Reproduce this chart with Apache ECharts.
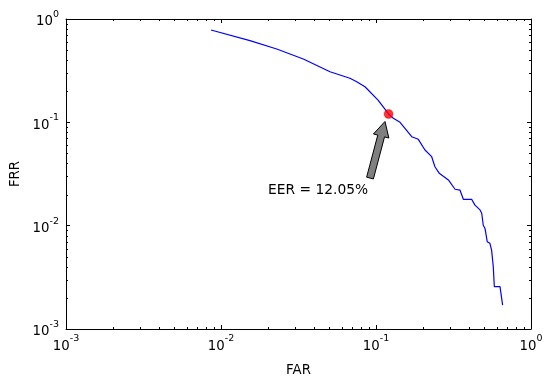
<!DOCTYPE html>
<html>
<head>
<meta charset="utf-8">
<script src="https://cdn.jsdelivr.net/npm/echarts@6/dist/echarts.min.js"></script>
<style>html,body{margin:0;padding:0;background:#fff;}#chart{width:553px;height:385px;}</style>
</head>
<body>
<div id="chart"></div>
<script>
// ---- data ----
const farValues = [0.00862, 0.01538, 0.02288, 0.03396, 0.0505, 0.0679, 0.0751, 0.0849, 0.1031, 0.1205,
  0.1294, 0.1429, 0.1538, 0.170, 0.1875, 0.192, 0.207, 0.2287, 0.240, 0.256, 0.293, 0.3236, 0.348,
  0.366, 0.414, 0.435, 0.469, 0.481, 0.492, 0.505, 0.522, 0.543, 0.557, 0.571, 0.580, 0.631, 0.656];
const frrValues = [0.782, 0.617, 0.513, 0.410, 0.309, 0.267, 0.247, 0.221, 0.164, 0.1205,
  0.1094, 0.100, 0.0875, 0.0726, 0.0685, 0.0675, 0.054, 0.0465, 0.0372, 0.0321, 0.0277, 0.0225, 0.0221,
  0.018, 0.018, 0.0158, 0.0142, 0.0132, 0.0101, 0.0094, 0.0070, 0.00675, 0.0058, 0.0040, 0.00257, 0.00257, 0.0017];
const eerPoint = [0.1205, 0.1205];
const eerText = 'EER = 12.05%';
const arrowTail = [0.0915, 0.0289];
const arrowTip = [0.1143, 0.1019];
const textPos = [0.0423, 0.0218];
const axisMin = 0.001;
const axisMax = 1;
const minorMultipliers = [2, 3, 4, 5, 6, 7, 8, 9];
const decadeExps = [-3, -2, -1];
const xName = 'FAR';
const yName = 'FRR';

const minorTicks = [];
decadeExps.forEach(e => minorMultipliers.forEach(m => minorTicks.push(m * Math.pow(10, e))));

const FONT = 'DejaVu Sans';
const labelFmt = v => '{b|10}{s|' + Math.round(Math.log10(v)) + '}';
const richLbl = {
  b: { fontSize: 13.3, fontFamily: FONT, color: '#000', verticalAlign: 'bottom', lineHeight: 19 },
  s: { fontSize: 9.5, fontFamily: FONT, color: '#000', verticalAlign: 'top', lineHeight: 10 }
};

function axisCommon(extra) {
  return Object.assign({
    type: 'log', logBase: 10, min: axisMin, max: axisMax,
    axisLine: { show: true, onZero: false, lineStyle: { color: '#000', width: 1 } },
    axisTick: { show: true, inside: true, length: 4, lineStyle: { color: '#000' } },
    splitLine: { show: false },
    minorTick: { show: false }
  }, extra);
}

const chart = echarts.init(document.getElementById('chart'), null, { renderer: 'canvas' });
chart.setOption({
  animation: false,
  backgroundColor: '#fff',
  grid: { left: 66, right: 22, top: 19, bottom: 56, containLabel: false },
  xAxis: [
    axisCommon({
      position: 'bottom',
      name: xName, nameLocation: 'middle', nameGap: 35,
      nameTextStyle: { fontSize: 13.3, fontFamily: FONT, color: '#000' },
      axisLabel: { margin: 5, formatter: labelFmt, rich: richLbl }
    }),
    axisCommon({ position: 'top', axisLabel: { show: false } })
  ],
  yAxis: [
    axisCommon({
      position: 'left',
      name: yName, nameLocation: 'middle', nameGap: 43, nameRotate: 90,
      nameTextStyle: { fontSize: 13.3, fontFamily: FONT, color: '#000' },
      axisLabel: { margin: 7, formatter: labelFmt, rich: richLbl }
    }),
    axisCommon({ position: 'right', axisLabel: { show: false } })
  ],
  series: [
    {
      type: 'custom', coordinateSystem: 'cartesian2d', silent: true, z: 1,
      data: [[axisMin, axisMin]],
      renderItem: function (params, api) {
        const children = [];
        const st = { stroke: '#000', lineWidth: 1 };
        minorTicks.forEach(v => {
          const b = api.coord([v, axisMin]);
          const t = api.coord([v, axisMax]);
          const x = Math.round(b[0]) + 0.5;
          children.push({ type: 'line', shape: { x1: x, y1: b[1], x2: x, y2: b[1] - 2 }, style: st });
          children.push({ type: 'line', shape: { x1: x, y1: t[1], x2: x, y2: t[1] + 2 }, style: st });
          const l = api.coord([axisMin, v]);
          const r = api.coord([axisMax, v]);
          const y = Math.round(l[1]) + 0.5;
          children.push({ type: 'line', shape: { x1: l[0], y1: y, x2: l[0] + 2, y2: y }, style: st });
          children.push({ type: 'line', shape: { x1: r[0], y1: y, x2: r[0] - 2, y2: y }, style: st });
        });
        return { type: 'group', children: children };
      }
    },
    {
      type: 'line',
      data: farValues.map((x, i) => [x, frrValues[i]]),
      showSymbol: false, symbol: 'none',
      lineStyle: { color: '#0000ff', width: 1.2 },
      z: 2
    },
    {
      type: 'scatter',
      data: [eerPoint],
      symbol: 'circle', symbolSize: 9,
      itemStyle: { color: '#ff0000', borderColor: '#cc0000', borderWidth: 0.5 },
      z: 3
    },
    {
      type: 'custom', coordinateSystem: 'cartesian2d', silent: true, z: 4,
      data: [[eerPoint[0], eerPoint[1]]],
      renderItem: function (params, api) {
        const a = api.coord(arrowTail);
        const b = api.coord(arrowTip);
        const dx = b[0] - a[0], dy = b[1] - a[1];
        const len = Math.sqrt(dx * dx + dy * dy);
        const ux = dx / len, uy = dy / len;
        const nx = -uy, ny = ux;
        const headLen = 15, headHalf = 8, shaftHalf = 3.5;
        const hb = [b[0] - ux * headLen, b[1] - uy * headLen];
        const pts = [
          [a[0] + nx * shaftHalf, a[1] + ny * shaftHalf],
          [hb[0] + nx * shaftHalf, hb[1] + ny * shaftHalf],
          [hb[0] + nx * headHalf, hb[1] + ny * headHalf],
          [b[0], b[1]],
          [hb[0] - nx * headHalf, hb[1] - ny * headHalf],
          [hb[0] - nx * shaftHalf, hb[1] - ny * shaftHalf],
          [a[0] - nx * shaftHalf, a[1] - ny * shaftHalf]
        ];
        const tp = api.coord(textPos);
        return {
          type: 'group',
          children: [
            { type: 'polygon', shape: { points: pts }, style: { fill: '#808080', stroke: '#000', lineWidth: 1 } },
            { type: 'text', x: tp[0], y: tp[1], style: { text: eerText, fontSize: 13.8, fontFamily: FONT, fill: '#000', align: 'center', verticalAlign: 'middle' } }
          ]
        };
      }
    }
  ]
});
</script>
</body>
</html>
